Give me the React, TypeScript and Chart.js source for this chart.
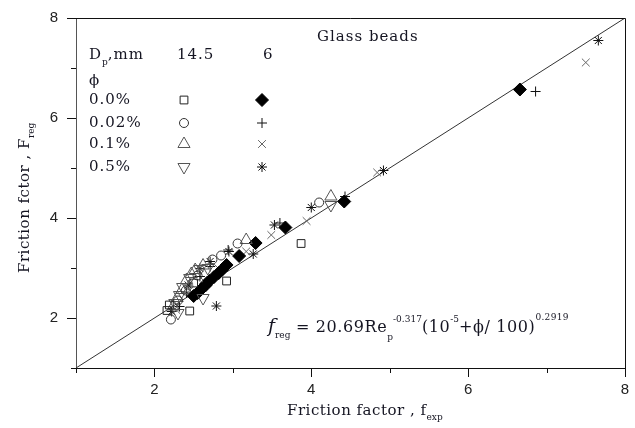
import React, { useEffect, useRef } from "react";
import { Chart, registerables } from "chart.js";
import { drawPoint } from "chart.js/helpers";

Chart.register(...registerables);

// ---- data (x = f_exp, y = F_reg) ----
const dp145_phi00: number[][] = [[2.16, 2.15], [2.19, 2.26], [2.45, 2.14], [2.5, 2.7], [2.92, 2.74], [3.87, 3.49]];
const dp145_phi002: number[][] = [[2.21, 1.97], [2.3, 2.35], [2.4, 2.55], [2.55, 2.85], [2.74, 3.17], [2.85, 3.25], [3.06, 3.49], [4.1, 4.31]];
const dp145_phi01: number[][] = [[2.24, 2.23], [2.29, 2.4], [2.35, 2.56], [2.41, 2.76], [2.47, 2.88], [2.52, 2.96], [2.62, 3.05], [3.17, 3.56], [4.25, 4.43]];
const dp145_phi05: number[][] = [[2.3, 2.1], [2.26, 2.3], [2.32, 2.46], [2.36, 2.62], [2.45, 2.8], [2.58, 2.98], [2.62, 2.4], [2.68, 3.0], [4.25, 4.26]];
const dp6_phi00: number[][] = [[2.5, 2.44], [2.55, 2.5], [2.6, 2.58], [2.65, 2.65], [2.7, 2.74], [2.76, 2.82], [2.82, 2.9], [2.86, 2.96], [2.92, 3.06], [3.08, 3.24], [3.29, 3.5], [3.67, 3.81], [4.42, 4.33], [6.66, 6.57]];
const dp6_phi002: number[][] = [[2.32, 2.23], [2.41, 2.5], [2.58, 2.83], [2.71, 3.03], [2.94, 3.36], [3.6, 3.9], [4.43, 4.43], [6.86, 6.53]];
const dp6_phi01: number[][] = [[2.28, 2.16], [2.45, 2.56], [2.62, 2.76], [2.81, 3.0], [3.17, 3.33], [3.49, 3.66], [3.94, 3.94], [4.84, 4.91], [7.5, 7.11]];
const dp6_phi05: number[][] = [[2.22, 2.13], [2.43, 2.66], [2.58, 2.99], [2.71, 3.13], [2.79, 2.24], [2.95, 3.33], [3.26, 3.28], [3.53, 3.86], [4.0, 4.21], [4.92, 4.95], [7.66, 7.55]];
const parityLine: number[][] = [[1, 1], [8, 8]];

const axisMin = 1;
const axisMax = 8;
const tickStep = 1;
const labelledTicks = [2, 4, 6, 8];

const diameterHeader = ["14.5", "6"];
const phiRows = ["0.0%", "0.02%", "0.1%", "0.5%"];

const SERIF = "'DejaVu Serif', serif";
const TEXT = "#151522";

type Sty = { pointStyle: any; radius: number; rotation: number; fill: string; stroke: string };
const styles: Sty[][] = [
  [
    { pointStyle: "rect", radius: 5.5, rotation: 0, fill: "rgba(0,0,0,0)", stroke: "#222" },
    { pointStyle: "circle", radius: 4.5, rotation: 0, fill: "rgba(0,0,0,0)", stroke: "#333" },
    { pointStyle: "triangle", radius: 7, rotation: 0, fill: "rgba(0,0,0,0)", stroke: "#555" },
    { pointStyle: "triangle", radius: 7, rotation: 180, fill: "rgba(0,0,0,0)", stroke: "#555" },
  ],
  [
    { pointStyle: "rectRot", radius: 6.5, rotation: 0, fill: "#000", stroke: "#000" },
    { pointStyle: "cross", radius: 5, rotation: 0, fill: "rgba(0,0,0,0)", stroke: "#111" },
    { pointStyle: "crossRot", radius: 5.5, rotation: 0, fill: "rgba(0,0,0,0)", stroke: "#666" },
    { pointStyle: "star", radius: 5, rotation: 0, fill: "rgba(0,0,0,0)", stroke: "#111" },
  ],
];

const seriesData = [
  [dp145_phi00, dp145_phi002, dp145_phi01, dp145_phi05],
  [dp6_phi00, dp6_phi002, dp6_phi01, dp6_phi05],
];

function toPts(a: number[][]) {
  return a.map(([x, y]) => ({ x, y }));
}

function drawSegments(ctx: CanvasRenderingContext2D, x: number, y: number, segs: { t: string; font: string; dy: number; ls?: string }[]) {
  let cx = x;
  for (const s of segs) {
    ctx.font = s.font;
    (ctx as any).letterSpacing = s.ls || "0px";
    ctx.fillText(s.t, cx, y + s.dy);
    cx += ctx.measureText(s.t).width;
  }
  (ctx as any).letterSpacing = "0px";
}

const overlay = {
  id: "overlay",
  afterDraw(chart: any) {
    const ctx: CanvasRenderingContext2D = chart.ctx;
    const { left, right, top, bottom } = chart.chartArea;
    const xs = chart.scales.x;
    const ys = chart.scales.y;
    ctx.save();
    // frame top/right
    ctx.strokeStyle = "#111";
    ctx.lineWidth = 1;
    ctx.beginPath();
    ctx.moveTo(left, top + 0.5);
    ctx.lineTo(right + 0.5, top + 0.5);
    ctx.lineTo(right + 0.5, bottom);
    ctx.stroke();
    // minor ticks
    ctx.beginPath();
    for (let v = axisMin; v <= axisMax; v += tickStep) {
      if (labelledTicks.includes(v)) continue;
      const px = Math.round(xs.getPixelForValue(v)) + 0.5;
      ctx.moveTo(px, bottom);
      ctx.lineTo(px, bottom + 5);
      const py = Math.round(ys.getPixelForValue(v)) + 0.5;
      ctx.moveTo(left, py);
      ctx.lineTo(left - 5, py);
    }
    ctx.stroke();

    // texts
    ctx.fillStyle = TEXT;
    ctx.textBaseline = "middle";
    ctx.textAlign = "left";
    const f15 = `15px ${SERIF}`;
    const f9 = `9px ${SERIF}`;
    drawSegments(ctx, 317, 37, [{ t: "Glass beads", font: f15, dy: 0, ls: "1px" }]);
    // legend header
    drawSegments(ctx, 89, 55, [
      { t: "D", font: f15, dy: 0, ls: "1px" },
      { t: "p", font: f9, dy: 8 },
      { t: ",mm", font: f15, dy: 0, ls: "1px" },
    ]);
    drawSegments(ctx, 177, 55, [{ t: diameterHeader[0], font: f15, dy: 0, ls: "1px" }]);
    drawSegments(ctx, 263, 55, [{ t: diameterHeader[1], font: f15, dy: 0, ls: "1px" }]);
    drawSegments(ctx, 89, 81, [{ t: "ϕ", font: f15, dy: 0 }]);
    const rowsY = [100, 123, 144, 167];
    const colX = [184, 262];
    phiRows.forEach((r, i) => {
      ctx.fillStyle = TEXT;
      drawSegments(ctx, 89, rowsY[i], [{ t: r, font: f15, dy: 0, ls: "1px" }]);
      for (let c = 0; c < 2; c++) {
        const s = styles[c][i];
        ctx.fillStyle = s.fill;
        ctx.strokeStyle = s.stroke;
        ctx.lineWidth = 1;
        drawPoint(ctx, { pointStyle: s.pointStyle, radius: s.radius, rotation: s.rotation, borderWidth: 1 } as any, colX[c], rowsY[i]);
      }
    });

    // formula
    ctx.fillStyle = TEXT;
    ctx.textBaseline = "alphabetic";
    const f16 = `16px ${SERIF}`;
    drawSegments(ctx, 268, 332, [
      { t: "f", font: `italic 19px ${SERIF}`, dy: 0 },
      { t: "reg", font: f9, dy: 6 },
      { t: " = 20.69Re", font: f16, dy: 0, ls: "0.6px" },
      { t: "p", font: f9, dy: 8 },
      { t: "-0.317", font: f9, dy: -10 },
      { t: "(10", font: f16, dy: 0, ls: "0.6px" },
      { t: "-5", font: f9, dy: -10 },
      { t: "+ϕ/ 100)", font: f16, dy: 0, ls: "0.6px" },
      { t: "0.2919", font: f9, dy: -12, ls: "0.3px" },
    ]);

    // x axis title
    ctx.textBaseline = "middle";
    drawSegments(ctx, 287, 411, [
      { t: "Friction factor , f", font: f15, dy: 0, ls: "0.5px" },
      { t: "exp", font: f9, dy: 7 },
    ]);
    // y axis title
    ctx.save();
    ctx.translate(25, 273);
    ctx.rotate(-Math.PI / 2);
    drawSegments(ctx, 0, 0, [
      { t: "Friction fctor , F", font: f15, dy: 0, ls: "0.5px" },
      { t: "reg", font: f9, dy: 7 },
    ]);
    ctx.restore();
    ctx.restore();
  },
};

export default function App() {
  const ref = useRef<HTMLCanvasElement | null>(null);
  useEffect(() => {
    if (!ref.current) return;
    const datasets: any[] = [];
    for (let c = 0; c < 2; c++) {
      for (let i = 0; i < 4; i++) {
        const s = styles[c][i];
        datasets.push({
          type: "scatter",
          data: toPts(seriesData[c][i]),
          pointStyle: s.pointStyle,
          pointRadius: s.radius,
          pointRotation: s.rotation,
          pointBackgroundColor: s.fill,
          pointBorderColor: s.stroke,
          pointBorderWidth: 1,
          showLine: false,
        });
      }
    }
    datasets.push({
      type: "line",
      data: toPts(parityLine),
      borderColor: "#333",
      borderWidth: 1,
      pointRadius: 0,
      fill: false,
    });
    const tickFont = { family: "'Liberation Sans', Arial, sans-serif", size: 15 };
    const chart = new Chart(ref.current, {
      type: "scatter",
      data: { datasets },
      options: {
        animation: false,
        responsive: false,
        devicePixelRatio: 1,
        layout: { padding: { top: 17, right: 10, left: 0, bottom: 0 } },
        plugins: { legend: { display: false }, tooltip: { enabled: false } },
        scales: {
          x: {
            type: "linear",
            min: axisMin,
            max: axisMax,
            afterFit: (s: any) => {
              s.height = 60;
            },
            ticks: {
              stepSize: tickStep,
              autoSkip: false,
              maxRotation: 0,
              padding: 4,
              color: "#222",
              font: tickFont,
              callback: (v: any) => (labelledTicks.includes(Number(v)) ? String(v) : ""),
            },
            grid: {
              drawOnChartArea: false,
              drawTicks: true,
              tickLength: 9,
              tickColor: (ctx: any) => (ctx.tick && labelledTicks.includes(ctx.tick.value) ? "#111" : "rgba(0,0,0,0)"),
            },
            border: { display: true, color: "#111", width: 1 },
          },
          y: {
            type: "linear",
            min: axisMin,
            max: axisMax,
            afterFit: (s: any) => {
              s.width = 76;
            },
            ticks: {
              stepSize: tickStep,
              autoSkip: false,
              padding: 9,
              color: "#222",
              font: tickFont,
              callback: (v: any) => (labelledTicks.includes(Number(v)) ? String(v) : ""),
            },
            grid: {
              drawOnChartArea: false,
              drawTicks: true,
              tickLength: 9,
              tickColor: (ctx: any) => (ctx.tick && labelledTicks.includes(ctx.tick.value) ? "#111" : "rgba(0,0,0,0)"),
            },
            border: { display: true, color: "#555", width: 1 },
          },
        },
      } as any,
      plugins: [overlay],
    });
    return () => chart.destroy();
  }, []);
  return (
    <div style={{ position: "fixed", left: 0, top: 0, width: 635, height: 428, background: "#fff" }}>
      <canvas ref={ref} width={635} height={428} style={{ display: "block" }} />
    </div>
  );
}
